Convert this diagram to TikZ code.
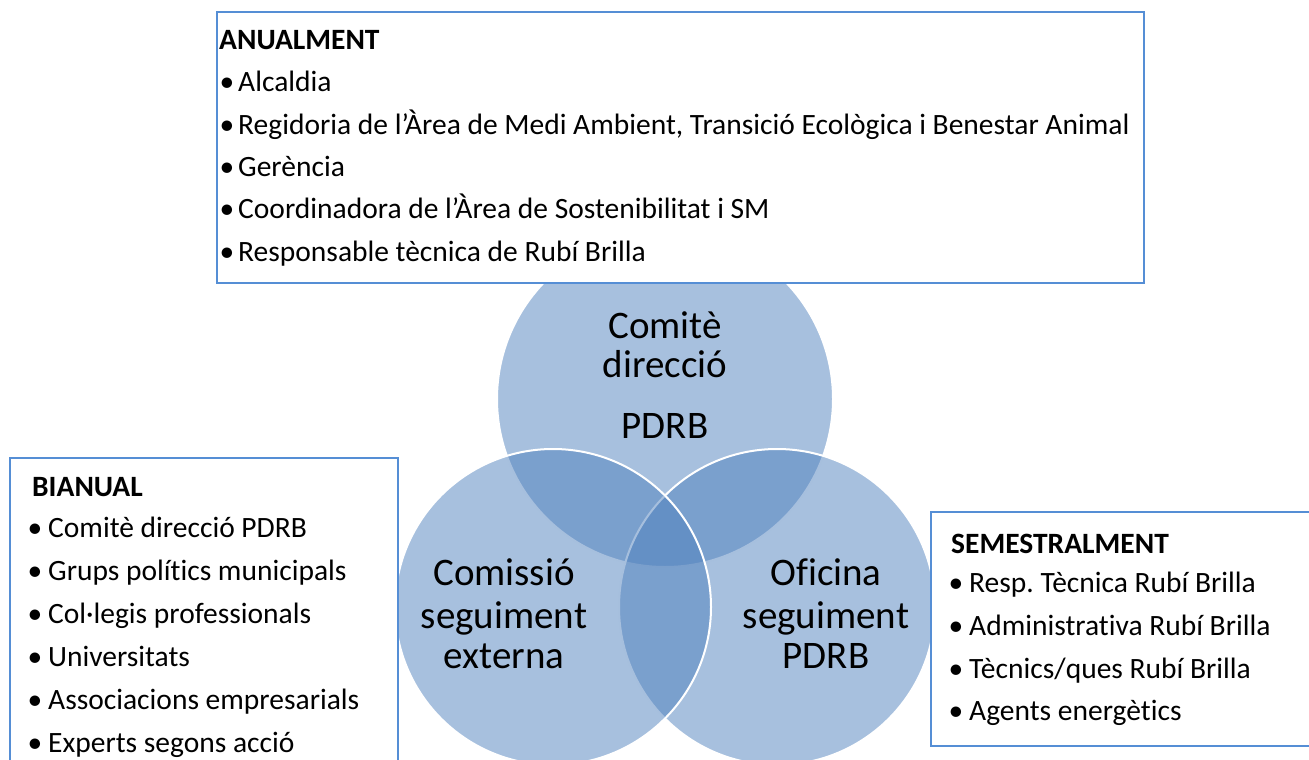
\documentclass[tikz,border=0pt]{standalone}
\usepackage{fontspec}
\setmainfont{Carlito}[Ligatures={NoCommon}]
\usepackage{tikz}
\usetikzlibrary{positioning}
\frenchspacing
\definecolor{accent}{RGB}{79,129,189}
\definecolor{boxline}{RGB}{85,142,213}
\tikzstyle{venn}=[fill=accent,fill opacity=0.5,draw=white,line width=2pt]
\tikzstyle{listbox}=[draw=boxline,fill=white,line width=1.5pt]
\tikzstyle{heading}=[anchor=base west,inner sep=0pt,font=\fontsize{29.5}{35}\selectfont\bfseries]
\tikzstyle{entry}=[anchor=base west,inner sep=0pt,font=\fontsize{29.5}{35}\selectfont]
\tikzstyle{venntext}=[anchor=base,inner sep=0pt,font=\fontsize{39}{45}\selectfont]

\begin{document}
\begin{tikzpicture}[x=1pt,y=-1pt]
\useasboundingbox (0,0) rectangle (1309,760);
\clip (0,0) rectangle (1309,760);

% three circles, drawn top, right, left
\draw[venn] (665,399) circle (168);
\draw[venn] (777,607) circle (158);
\draw[venn] (553,607) circle (158);

\foreach \y/\word [count=\i] in {338.3/Comitè, 377.3/direcció, 438.3/PDRB}
    \node[venntext] (comite\i) at (665,\y) {\word};
\foreach \y/\word [count=\i] in {585/Comissió, 628/seguiment, 668/externa}
    \node[venntext] (comissio\i) at (504,\y) {\word};
\foreach \y/\word [count=\i] in {585/Oficina, 628/seguiment, 668/PDRB}
    \node[venntext] (oficina\i) at (826,\y) {\word};

% the three lists
\draw[listbox] (217,12) rectangle (1144,283);
\draw[listbox] (10,458) rectangle (398,775);
\draw[listbox] (931,512) rectangle (1320,746);

\node[heading] (anual) at (219,49.3) {ANUALMENT};
\foreach \y/\entry [count=\i] in {{91.7/Alcaldia}, {134.1/Regidoria de l’Àrea de Medi Ambient, Transició Ecològica i Benestar Animal}, {176.5/Gerència}, {218.9/Coordinadora de l’Àrea de Sostenibilitat i SM}, {261.3/Responsable tècnica de Rubí Brilla}}
    \node[entry] (anual\i) at (238,\y) {\llap{\textbullet\hspace{4pt}}\entry};

\node[heading] (bianual) at (32,496) {BIANUAL};
\foreach \y/\entry [count=\i] in {{537/Comitè direcció PDRB}, {580/Grups polítics municipals}, {623/Col·legis professionals}, {666/Universitats}, {709/Associacions empresarials}, {752/Experts segons acció}}
    \node[entry] (bianual\i) at (48,\y) {\llap{\textbullet\hspace{6pt}}\entry};

\node[heading] (semestral) at (951,553.3) {SEMESTRALMENT};
\foreach \y/\entry [count=\i] in {{592.7/Resp. Tècnica Rubí Brilla}, {635.4/Administrativa Rubí Brilla}, {678/{Tècnics/ques Rubí Brilla}}, {720.7/Agents energètics}}
    \node[entry] (semestral\i) at (969,\y) {\llap{\textbullet\hspace{6pt}}\entry};

\end{tikzpicture}
\end{document}
